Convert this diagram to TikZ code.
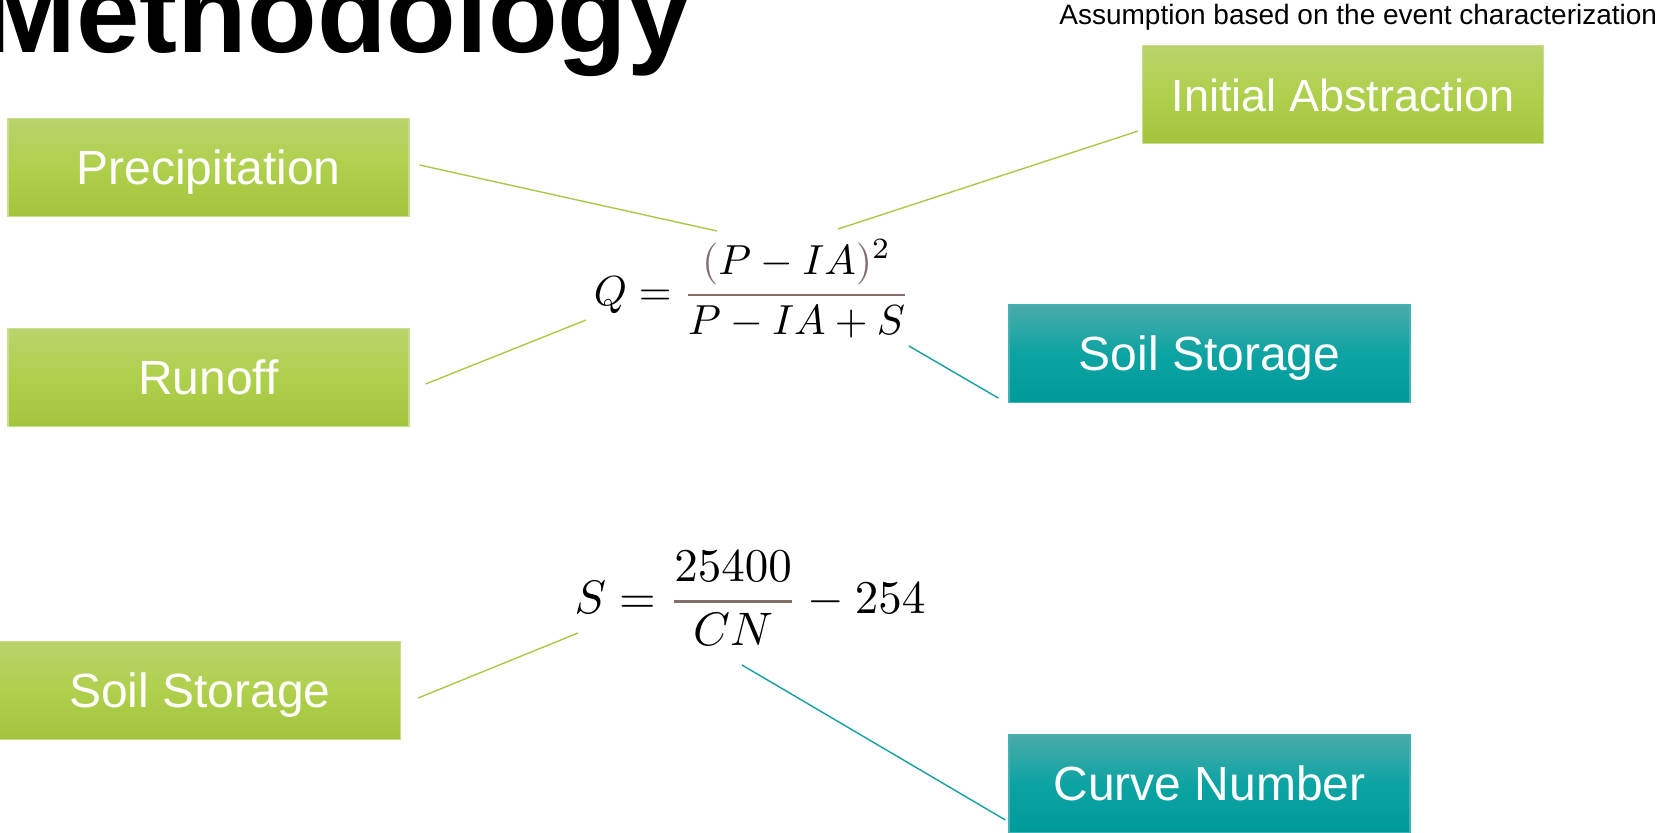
\documentclass[tikz,border=0pt]{standalone}
\usepackage[no-math]{fontspec}
\setmainfont{Liberation Sans}
\usepackage{amsmath}
\usepackage{graphicx}
\definecolor{gtop}{HTML}{B9D46C}
\definecolor{gmid}{HTML}{AFD04C}
\definecolor{gbot}{HTML}{A3C43D}
\definecolor{gborder}{HTML}{C6DE8E}
\definecolor{ttop}{HTML}{4AABAA}
\definecolor{tmid}{HTML}{0DA3A3}
\definecolor{tbot}{HTML}{009A9A}
\definecolor{tborder}{HTML}{40B4B4}
\definecolor{gline}{HTML}{A9C94A}
\definecolor{tline}{HTML}{14A0A0}
\definecolor{eqc}{HTML}{856E6A}
\tikzset{
  boxbase/.style={rectangle, line width=0.6pt, inner sep=0pt, text=white,
    font=\fontsize{24}{28}\selectfont, text height=17pt, text depth=0pt,
    minimum width=200.5pt, minimum height=49pt},
  gbox/.style={boxbase, draw=gborder, top color=gtop, bottom color=gbot, middle color=gmid},
  tbox/.style={boxbase, draw=tborder, top color=ttop, bottom color=tbot, middle color=tmid},
  glink/.style={draw=gline, line width=0.7pt},
  tlink/.style={draw=tline, line width=0.7pt},
  eqnode/.style={anchor=base, inner sep=0pt}
}
\begin{document}
\begin{tikzpicture}[x=0.5pt,y=-0.5pt]
\useasboundingbox (0,0) rectangle (1665,832);
\clip (0,0) rectangle (1665,832);

% title and note
\node[anchor=base west, inner sep=0pt, font=\fontsize{57}{60}\selectfont\bfseries] (title) at (-19,52) {Methodology};
\node[anchor=base west, inner sep=0pt, font=\fontsize{14}{16}\selectfont] (note) at (1059,24) {Assumption based on the event characterization};

% boxes
\node[gbox] (prec) at (208.5,167.5) {Precipitation};
\node[gbox] (runoff) at (208.5,377.5) {Runoff};
\node[gbox, font=\fontsize{22.5}{26}\selectfont] (initabs) at (1343,94.5) {Initial Abstraction};
\node[tbox] (soilR) at (1209.5,353.5) {Soil Storage};
\node[gbox] (soilL) at (200,690.5) {Soil Storage};
\node[tbox] (curve) at (1209.5,783.5) {Curve Number};

% equations
\node[eqnode] (eqQ) at (752,305.5) {\scalebox{2.1}{$\displaystyle Q={\color{eqc}\genfrac{}{}{0.7pt}{0}{\color{black}{\color{eqc}(}P-IA{\color{eqc})}^{2}}{\color{black}P-IA+S}}$}};
\node[eqnode] (eqS) at (750,613) {\scalebox{2.35}{$\displaystyle S={\color{eqc}\genfrac{}{}{0.65pt}{0}{\color{black}25400}{\color{black}CN}}-254$}};

% connector end points
\coordinate (p1) at ([shift={(10,-2.5)}]prec.east);
\coordinate (q1) at (717,231);
\coordinate (p2) at ([shift={(-4,-13)}]initabs.south west);
\coordinate (q2) at (838,229);
\coordinate (p3) at ([shift={(16,6.5)}]runoff.east);
\coordinate (q3) at (586,320);
\coordinate (p4) at ([shift={(-10,-5)}]soilR.south west);
\coordinate (q4) at (909,346);
\coordinate (p5) at ([shift={(17,7.5)}]soilL.east);
\coordinate (q5) at (578,633);
\coordinate (p6) at ([shift={(-3,36.5)}]curve.west);
\coordinate (q6) at (742,665);

\draw[glink] (p1) -- (q1);
\draw[glink] (p2) -- (q2);
\draw[glink] (p3) -- (q3);
\draw[tlink] (p4) -- (q4);
\draw[glink] (p5) -- (q5);
\draw[tlink] (p6) -- (q6);
\end{tikzpicture}
\end{document}
